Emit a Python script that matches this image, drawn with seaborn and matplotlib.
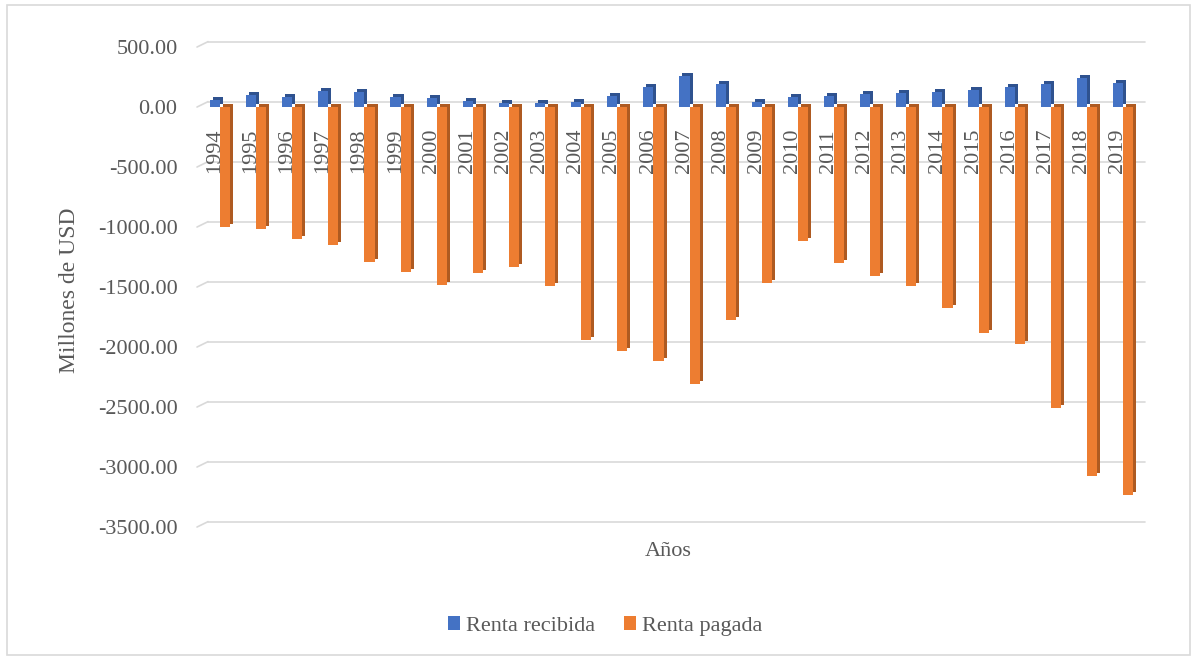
import numpy as np
import pandas as pd
import matplotlib
matplotlib.use("Agg")
import matplotlib.pyplot as plt
import matplotlib.transforms as mtransforms
from matplotlib.patches import Rectangle, Patch
import seaborn as sns

# Income flows (millions of USD)
years = [str(y) for y in range(1994, 2020)]
renta_recibida = [62, 100, 81, 133, 122, 81, 75, 53, 33, 31, 39, 92, 169, 262,
                  192, 39, 83, 92, 111, 117, 125, 142, 169, 189, 242, 197]
renta_pagada = [-1000, -1019, -1100, -1153, -1289, -1378, -1483, -1381, -1333,
                -1489, -1944, -2033, -2119, -2308, -1775, -1469, -1114, -1303,
                -1408, -1489, -1675, -1881, -1978, -2508, -3072, -3233]
series_names = ["Renta recibida", "Renta pagada"]
y_ticks = list(range(500, -3501, -500))

front_colors = ["#4472C4", "#ED7D31"]
side_colors = ["#2F528F", "#AE5A21"]
text_color = "#595959"

df = pd.DataFrame({
    "Año": years * 2,
    "Serie": [series_names[0]] * len(years) + [series_names[1]] * len(years),
    "Valor": renta_recibida + renta_pagada,
})

sns.set_theme(style="white")
plt.rcParams["font.family"] = ["Liberation Serif", "DejaVu Serif"]

W, H = 1193, 660
fig = plt.figure(figsize=(W / 100, H / 100), dpi=100)
ax = fig.add_axes([197 / W, 1 - 540 / H, 943 / W, 510 / H])

# Depth faces: darker copies of the bars shifted up and to the right
sns.barplot(data=df, x="Año", y="Valor", hue="Serie", hue_order=series_names,
            order=years, palette=side_colors, width=0.56, dodge=True,
            saturation=1, legend=False, ax=ax, zorder=2, errorbar=None)
n_depth = len(ax.patches)
shift = mtransforms.ScaledTranslation(3 / 100, 3 / 100, fig.dpi_scale_trans)
for p in ax.patches[:n_depth]:
    p.set_transform(ax.transData + shift)
    p.set_edgecolor("none")
    p.set_linewidth(0)

# Front faces
sns.barplot(data=df, x="Año", y="Valor", hue="Serie", hue_order=series_names,
            order=years, palette=front_colors, width=0.56, dodge=True,
            saturation=1, legend=False, ax=ax, zorder=3, errorbar=None)
for p in ax.patches[n_depth:]:
    p.set_edgecolor("none")
    p.set_linewidth(0)

ax.set_xlim(-0.637, 25.47)
ax.set_ylim(-3608, 642)

# Back-wall gridlines with a short receding floor edge at the left
blend = mtransforms.blended_transform_factory(ax.transAxes, ax.transData)
depth_units = 45
for v in y_ticks:
    ax.plot([0.0117, 1.0053], [v + depth_units, v + depth_units], transform=blend,
            color="#D9D9D9", lw=1.2, zorder=1, clip_on=False)
    ax.plot([0, 0.0117], [v, v + depth_units], transform=blend,
            color="#D9D9D9", lw=1.2, zorder=1, clip_on=False)

ax.set_yticks(y_ticks)
ax.set_yticklabels([f"{v:.2f}" for v in y_ticks], color=text_color, fontsize=16)
ax.tick_params(axis="y", length=0, pad=14)
ax.set_xticks([])
ax.grid(False)
for s in ax.spines.values():
    s.set_visible(False)

# Year labels inside the plot, just below the zero line
for i, yr in enumerate(years):
    ax.text(i - 0.15, -367, yr, rotation=90, ha="center", va="center",
            fontsize=16, color=text_color, zorder=4)

ax.set_xlabel("Años", fontsize=16, color=text_color)
ax.xaxis.label.set_va("center")
ax.xaxis.set_label_coords(0.4995, -0.0235)
ax.set_ylabel("Millones de USD", fontsize=17, color=text_color)
ax.yaxis.label.set_va("center")
ax.yaxis.set_label_coords(-0.1347, 0.49)

handles = [Patch(facecolor=c, edgecolor="none") for c in front_colors]
fig.legend(handles, series_names, loc="center", ncol=2,
           bbox_to_anchor=(605 / W, 1 - 626 / H), frameon=False,
           fontsize=16, labelcolor=text_color, handlelength=0.55,
           handleheight=0.55, handletextpad=0.25, columnspacing=1.3)

# Chart area border
fig.patches.append(Rectangle((7 / W, 5 / H), 1183 / W, 650 / H,
                             transform=fig.transFigure, fill=False,
                             edgecolor="#D9D9D9", lw=1.2))

fig.savefig("out.png", dpi=100, facecolor="white")
